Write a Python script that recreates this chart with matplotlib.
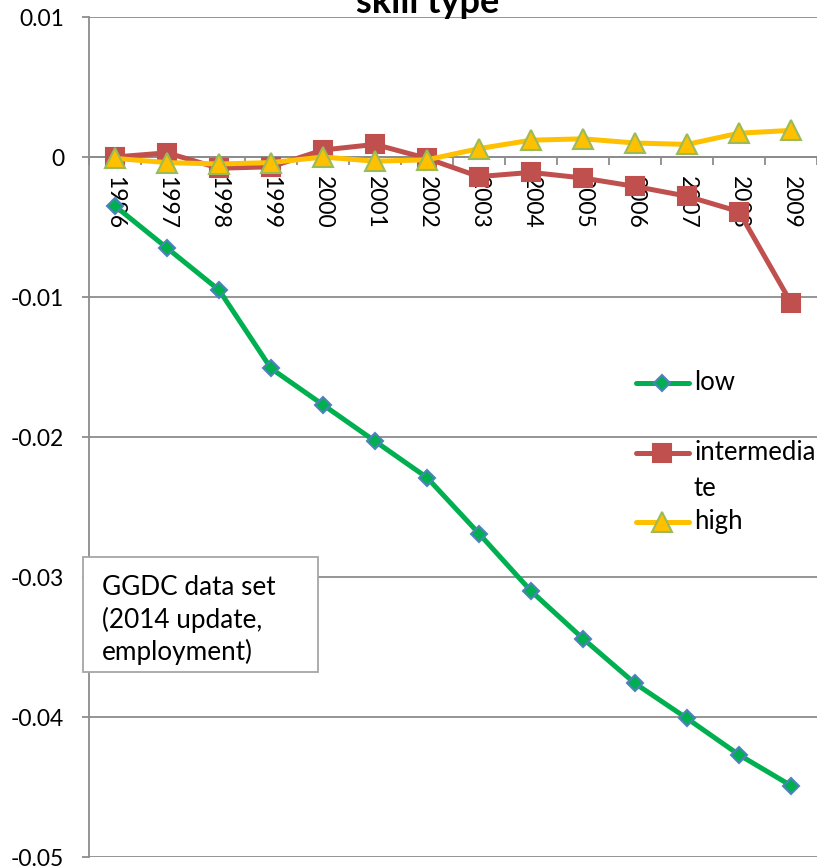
import numpy as np
import matplotlib
matplotlib.use("Agg")
import matplotlib.pyplot as plt
from matplotlib.patches import Rectangle
from matplotlib.lines import Line2D

# Series: change in employment share by skill type, 1996-2009
years = [str(y) for y in range(1996, 2010)]
low = [-0.0035, -0.0065, -0.0095, -0.0151, -0.0177, -0.0203, -0.0229,
       -0.0269, -0.0310, -0.0344, -0.0376, -0.0401, -0.0427, -0.0449]
intermediate = [0.0000, 0.0003, -0.0008, -0.0007, 0.0005, 0.0009, -0.0001,
                -0.0014, -0.0011, -0.0015, -0.0021, -0.0028, -0.0039, -0.0104]
high = [-0.0001, -0.0004, -0.0005, -0.0004, 0.0000, -0.0003, -0.0002,
        0.0006, 0.0012, 0.0013, 0.0010, 0.0009, 0.0017, 0.0019]

series_names = ["low", "intermedia\nte", "high"]
y_ticks = [0.01, 0.0, -0.01, -0.02, -0.03, -0.04, -0.05]
y_tick_labels = ["0.01", "0", "-0.01", "-0.02", "-0.03", "-0.04", "-0.05"]
title = "skill type"
note_lines = ["GGDC data set", "(2014 update,", "employment)"]

plt.rcParams['font.family'] = ['Lato', 'DejaVu Sans']
plt.rcParams['axes.unicode_minus'] = False

W, H = 817, 868
fig = plt.figure(figsize=(W / 100, H / 100), dpi=100)


def fx(px):
    return px / W


def fy(py):
    return 1 - py / H


GRID = '#8C8C8C'
ax = fig.add_axes([fx(89), fy(857), fx(817) - fx(89), fy(17) - fy(857)])
ax.set_xlim(-0.5, len(years) - 0.5)
ax.set_ylim(-0.05, 0.01)

for s in ['top', 'right']:
    ax.spines[s].set_visible(False)
ax.spines['left'].set_color(GRID)
ax.spines['left'].set_linewidth(1.3)
ax.spines['bottom'].set_position(('data', 0))
ax.spines['bottom'].set_color(GRID)
ax.spines['bottom'].set_linewidth(1.3)

ax.set_yticks(y_ticks)
ax.set_yticklabels(y_tick_labels)
ax.yaxis.grid(True, color=GRID, linewidth=1.3)
ax.set_axisbelow(True)
ax.tick_params(axis='y', direction='out', length=5, width=1.3, color=GRID,
               labelsize=16.5, pad=13)

x = np.arange(len(years))
ax.set_xticks(np.arange(-0.5, len(years), 1.0))
ax.set_xticklabels([])
ax.set_xticks(x, minor=True)
ax.set_xticklabels(years, minor=True, rotation=-90)
ax.tick_params(axis='x', which='major', direction='out', length=6, width=1.3,
               color=GRID)
ax.tick_params(axis='x', which='minor', length=0, labelsize=16.5, pad=14)

LW = 3.6
styles = [
    dict(color='#00B050', marker='D', ms=8.5, mfc='#00B050', mec='#4F81BD'),
    dict(color='#C0504D', marker='s', ms=13, mfc='#C0504D', mec='#C0504D'),
    dict(color='#FFC000', marker='^', ms=14, mfc='#FFC000', mec='#9BBB59'),
]
for vals, st in zip([low, intermediate, high], styles):
    ax.plot(x, vals, lw=LW, mew=1.5, solid_capstyle='round', **st,
            clip_on=False, zorder=3)

# Legend entries, drawn without a frame; each handle sits on its first text line
legend_rows = [383, 453, 522]
for name, st, ry in zip(series_names, styles, legend_rows):
    fig.add_artist(Line2D([fx(636), fx(689)], [fy(ry), fy(ry)], lw=LW,
                          solid_capstyle='round', color=st['color']))
    fig.add_artist(Line2D([fx(662)], [fy(ry)], lw=0, mew=1.5, **st))
    fig.text(fx(694), fy(ry - 13), name, fontsize=18.5, va='top', ha='left',
             linespacing=1.55)

# Data source note
fig.add_artist(Rectangle((fx(83), fy(672)), fx(318) - fx(83),
                         fy(557) - fy(672), transform=fig.transFigure,
                         facecolor='white', edgecolor='#A6A6A6', lw=1.3,
                         zorder=5))
for line, by in zip(note_lines, [595, 628, 660]):
    fig.text(fx(102), fy(by), line, fontsize=18.8, va='baseline', ha='left',
             zorder=6)

fig.text(fx(428), fy(13), title, fontsize=26, fontweight='bold',
         ha='center', va='baseline')

fig.savefig('out.png', dpi=100)
